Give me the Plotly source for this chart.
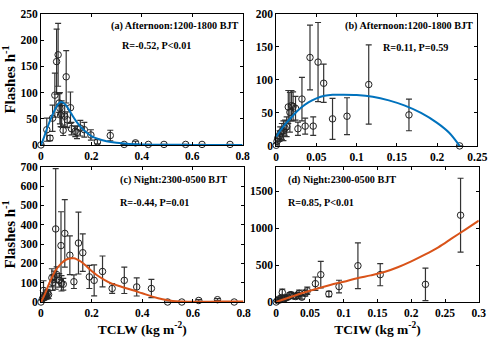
import plotly.graph_objects as go

# (a) afternoon, TCLW
a_x = [0.000, 0.023, 0.036, 0.046, 0.055, 0.062, 0.068, 0.072, 0.075, 0.078, 0.082, 0.088, 0.094, 0.100, 0.104,
       0.117, 0.121, 0.136, 0.143, 0.156, 0.172, 0.198, 0.224, 0.275, 0.330, 0.375, 0.426, 0.488, 0.574, 0.639, 0.750]
a_y = [0, 29, 13, 51, 95, 159, 172, 80, 70, 57, 59, 28, 55, 130, 48, 71, 31, 26, 24, 32, 29, 19, 6, 18, 1, 4, 1, 1, 1, 1, 1]
a_err = [0, 22, 5, 25, 42, 62, 60, 18, 30, 22, 25, 10, 20, 50, 15, 30, 12, 10, 12, 15, 14, 10, 4, 10, 1, 3, 0, 0, 0, 0, 0]
a_fit_x = [0, 0.01, 0.02, 0.03, 0.04, 0.05, 0.06, 0.07, 0.08, 0.09, 0.10, 0.11, 0.12, 0.14, 0.16, 0.18, 0.20,
           0.23, 0.26, 0.30, 0.35, 0.40, 0.50, 0.60, 0.70, 0.80]
a_fit_y = [0, 12, 26, 39, 51, 62, 72, 79, 82, 80, 75, 68, 60, 45, 33, 24, 17, 11, 7, 4, 2, 1, 0.3, 0.1, 0, 0]

# (b) afternoon, TCIW
b_x = [0.000, 0.001, 0.002, 0.004, 0.005, 0.007, 0.009, 0.011, 0.013, 0.015, 0.017, 0.019, 0.021, 0.024, 0.027,
       0.032, 0.036, 0.042, 0.046, 0.052, 0.059, 0.070, 0.088, 0.115, 0.165, 0.228]
b_y = [1, 7, 12, 15, 19, 22, 23, 27, 29, 59, 51, 61, 60, 57, 26, 71, 30, 134, 30, 127, 95, 41, 45, 93, 47, 0]
b_err = [0, 4, 6, 8, 10, 12, 15, 12, 15, 25, 30, 23, 22, 18, 10, 33, 12, 49, 14, 60, 29, 31, 28, 60, 24, 0]
b_fit_x = [0, 0.01, 0.02, 0.03, 0.04, 0.05, 0.06, 0.07, 0.08, 0.10, 0.12, 0.14, 0.16, 0.18, 0.20, 0.215, 0.228]
b_fit_y = [14, 31, 45, 57, 66, 72, 76, 77.5, 77.5, 77, 74.5, 69, 61, 50, 35, 20, 0]

# (c) night, TCLW
c_x = [0.000, 0.006, 0.010, 0.013, 0.016, 0.019, 0.022, 0.026, 0.030, 0.043, 0.046, 0.052, 0.058, 0.062, 0.072,
       0.079, 0.081, 0.088, 0.094, 0.114, 0.130, 0.148, 0.165, 0.191, 0.210, 0.243, 0.281, 0.329, 0.378, 0.436,
       0.500, 0.556, 0.623, 0.697, 0.763]
c_y = [0, 17, 60, 25, 33, 42, 30, 45, 38, 125, 100, 130, 378, 142, 112, 292, 97, 92, 355, 242, 105, 305, 255,
       130, 112, 158, 70, 112, 78, 70, 0, 0, 8, 12, 0]
c_err = [0, 10, 50, 15, 15, 20, 15, 20, 20, 47, 40, 30, 312, 40, 35, 175, 40, 30, 175, 100, 35, 160, 97, 60, 80,
         80, 25, 68, 47, 47, 0, 0, 4, 5, 0]
c_fit_x = [0, 0.01, 0.02, 0.03, 0.04, 0.05, 0.06, 0.08, 0.10, 0.12, 0.13, 0.14, 0.16, 0.18, 0.20, 0.22, 0.25,
           0.28, 0.32, 0.36, 0.40, 0.44, 0.48, 0.52, 0.56, 0.60, 0.70, 0.80]
c_fit_y = [0, 25, 55, 88, 118, 145, 168, 200, 220, 226, 226, 222, 207, 185, 160, 140, 115, 95, 78, 62, 45, 28,
           14, 5, 2, 1, 2, 3]

# (d) night, TCIW
d_x = [0.000, 0.002, 0.004, 0.006, 0.008, 0.009, 0.011, 0.012, 0.014, 0.017, 0.020, 0.022, 0.026, 0.029, 0.032,
       0.034, 0.038, 0.043, 0.046, 0.058, 0.066, 0.078, 0.093, 0.121, 0.154, 0.221, 0.273]
d_y = [0, 20, 40, 30, 60, 130, 45, 43, 55, 65, 95, 100, 80, 74, 90, 117, 65, 120, 152, 248, 370, 109, 209, 491,
       370, 239, 1174]
d_err = [0, 15, 20, 20, 30, 45, 20, 25, 25, 30, 30, 30, 35, 30, 40, 45, 25, 40, 50, 90, 180, 35, 85, 310, 150,
         220, 500]
d_fit_x = [0, 0.02, 0.05, 0.08, 0.10, 0.12, 0.14, 0.16, 0.18, 0.20, 0.22, 0.24, 0.26, 0.28, 0.30]
d_fit_y = [0, 65, 152, 230, 274, 322, 360, 405, 470, 550, 640, 740, 860, 980, 1100]

labels = ['(a) Afternoon:1200-1800 BJT', '(b) Afternoon:1200-1800 BJT',
          '(c) Night:2300-0500 BJT', '(d) Night:2300-0500 BJT']
stats = ['R=-0.52, P<0.01', 'R=0.11, P=0.59', 'R=-0.44, P=0.01', 'R=0.85, P<0.01']

BLUE = '#0072BD'
ORANGE = '#D95319'
FONT = 'Liberation Serif'

panels = [
    (a_x, a_y, a_err, a_fit_x, a_fit_y, BLUE),
    (b_x, b_y, b_err, b_fit_x, b_fit_y, BLUE),
    (c_x, c_y, c_err, c_fit_x, c_fit_y, ORANGE),
    (d_x, d_y, d_err, d_fit_x, d_fit_y, ORANGE),
]

fig = go.Figure()
for i, (px_, py_, pe_, fx, fy, col) in enumerate(panels):
    ax = '' if i == 0 else str(i + 1)
    fig.add_trace(go.Scatter(x=px_, y=py_, mode='markers',
                             marker=dict(symbol='circle-open', size=6.5, color='#222', line=dict(width=1)),
                             error_y=dict(type='data', array=pe_, color='#333', thickness=1.2, width=3),
                             xaxis='x' + ax, yaxis='y' + ax, showlegend=False, cliponaxis=False))
    fig.add_trace(go.Scatter(x=fx, y=fy, mode='lines', line=dict(color=col, width=2, shape='spline'),
                             xaxis='x' + ax, yaxis='y' + ax, showlegend=False))

axis_style = dict(showline=True, linecolor='black', linewidth=1, mirror='ticks', ticks='inside', ticklen=3,
                  tickcolor='black', showgrid=False, zeroline=False,
                  tickfont=dict(family=FONT, size=11.5, color='black', weight='bold'))

ytl = dict(family=FONT, size=15, color='black', weight='bold')
xtl = dict(family=FONT, size=13.5, color='black', weight='bold')
fig.update_layout(
    width=500, height=342, margin=dict(l=0, r=0, t=0, b=0),
    plot_bgcolor='white', paper_bgcolor='white',
    xaxis=dict(axis_style, domain=[0.078, 0.492], range=[0, 0.8], dtick=0.2, anchor='y'),
    yaxis=dict(axis_style, domain=[0.579, 0.976], range=[0, 250], dtick=50, anchor='x',
               title=dict(text='Flashes h<sup>-1</sup>', font=ytl, standoff=5)),
    xaxis2=dict(axis_style, domain=[0.561, 0.974], range=[0, 0.25], dtick=0.05, anchor='y2'),
    yaxis2=dict(axis_style, domain=[0.576, 0.976], range=[0, 200], dtick=50, anchor='x2'),
    xaxis3=dict(axis_style, domain=[0.078, 0.494], range=[0, 0.8], dtick=0.2, anchor='y3',
                title=dict(text='TCLW (kg m<sup>-2</sup>)', font=xtl, standoff=6)),
    yaxis3=dict(axis_style, domain=[0.103, 0.513], range=[0, 700], dtick=100, anchor='x3',
                title=dict(text='Flashes h<sup>-1</sup>', font=ytl, standoff=5)),
    xaxis4=dict(axis_style, domain=[0.561, 0.977], range=[0, 0.3], dtick=0.05, anchor='y4',
                title=dict(text='TCIW (kg m<sup>-2</sup>)', font=xtl, standoff=6)),
    yaxis4=dict(axis_style, domain=[0.103, 0.513], range=[0, 1830], dtick=500, anchor='x4'),
)

lab_font = dict(family=FONT, size=10.2, color='black', weight='bold')
# label anchor positions in axis-domain fractions
lab_pos = [(0.99, 0.91, 'right'), (0.99, 0.91, 'right'), (0.38, 0.9, 'left'), (0.05, 0.9, 'left')]
stat_pos = [(0.39, 0.757, 'left'), (0.52, 0.745, 'left'), (0.38, 0.733, 'left'), (0.05, 0.733, 'left')]
for i in range(4):
    ax = '' if i == 0 else str(i + 1)
    for txt, (px_, py_, al) in ((labels[i], lab_pos[i]), (stats[i], stat_pos[i])):
        fig.add_annotation(text=txt, x=px_, y=py_, xref='x' + ax + ' domain', yref='y' + ax + ' domain',
                           xanchor=al, yanchor='middle', showarrow=False, font=lab_font)

fig.write_html("out.html", config={'displayModeBar': False},
               post_script="document.body.style.margin='0px';")
